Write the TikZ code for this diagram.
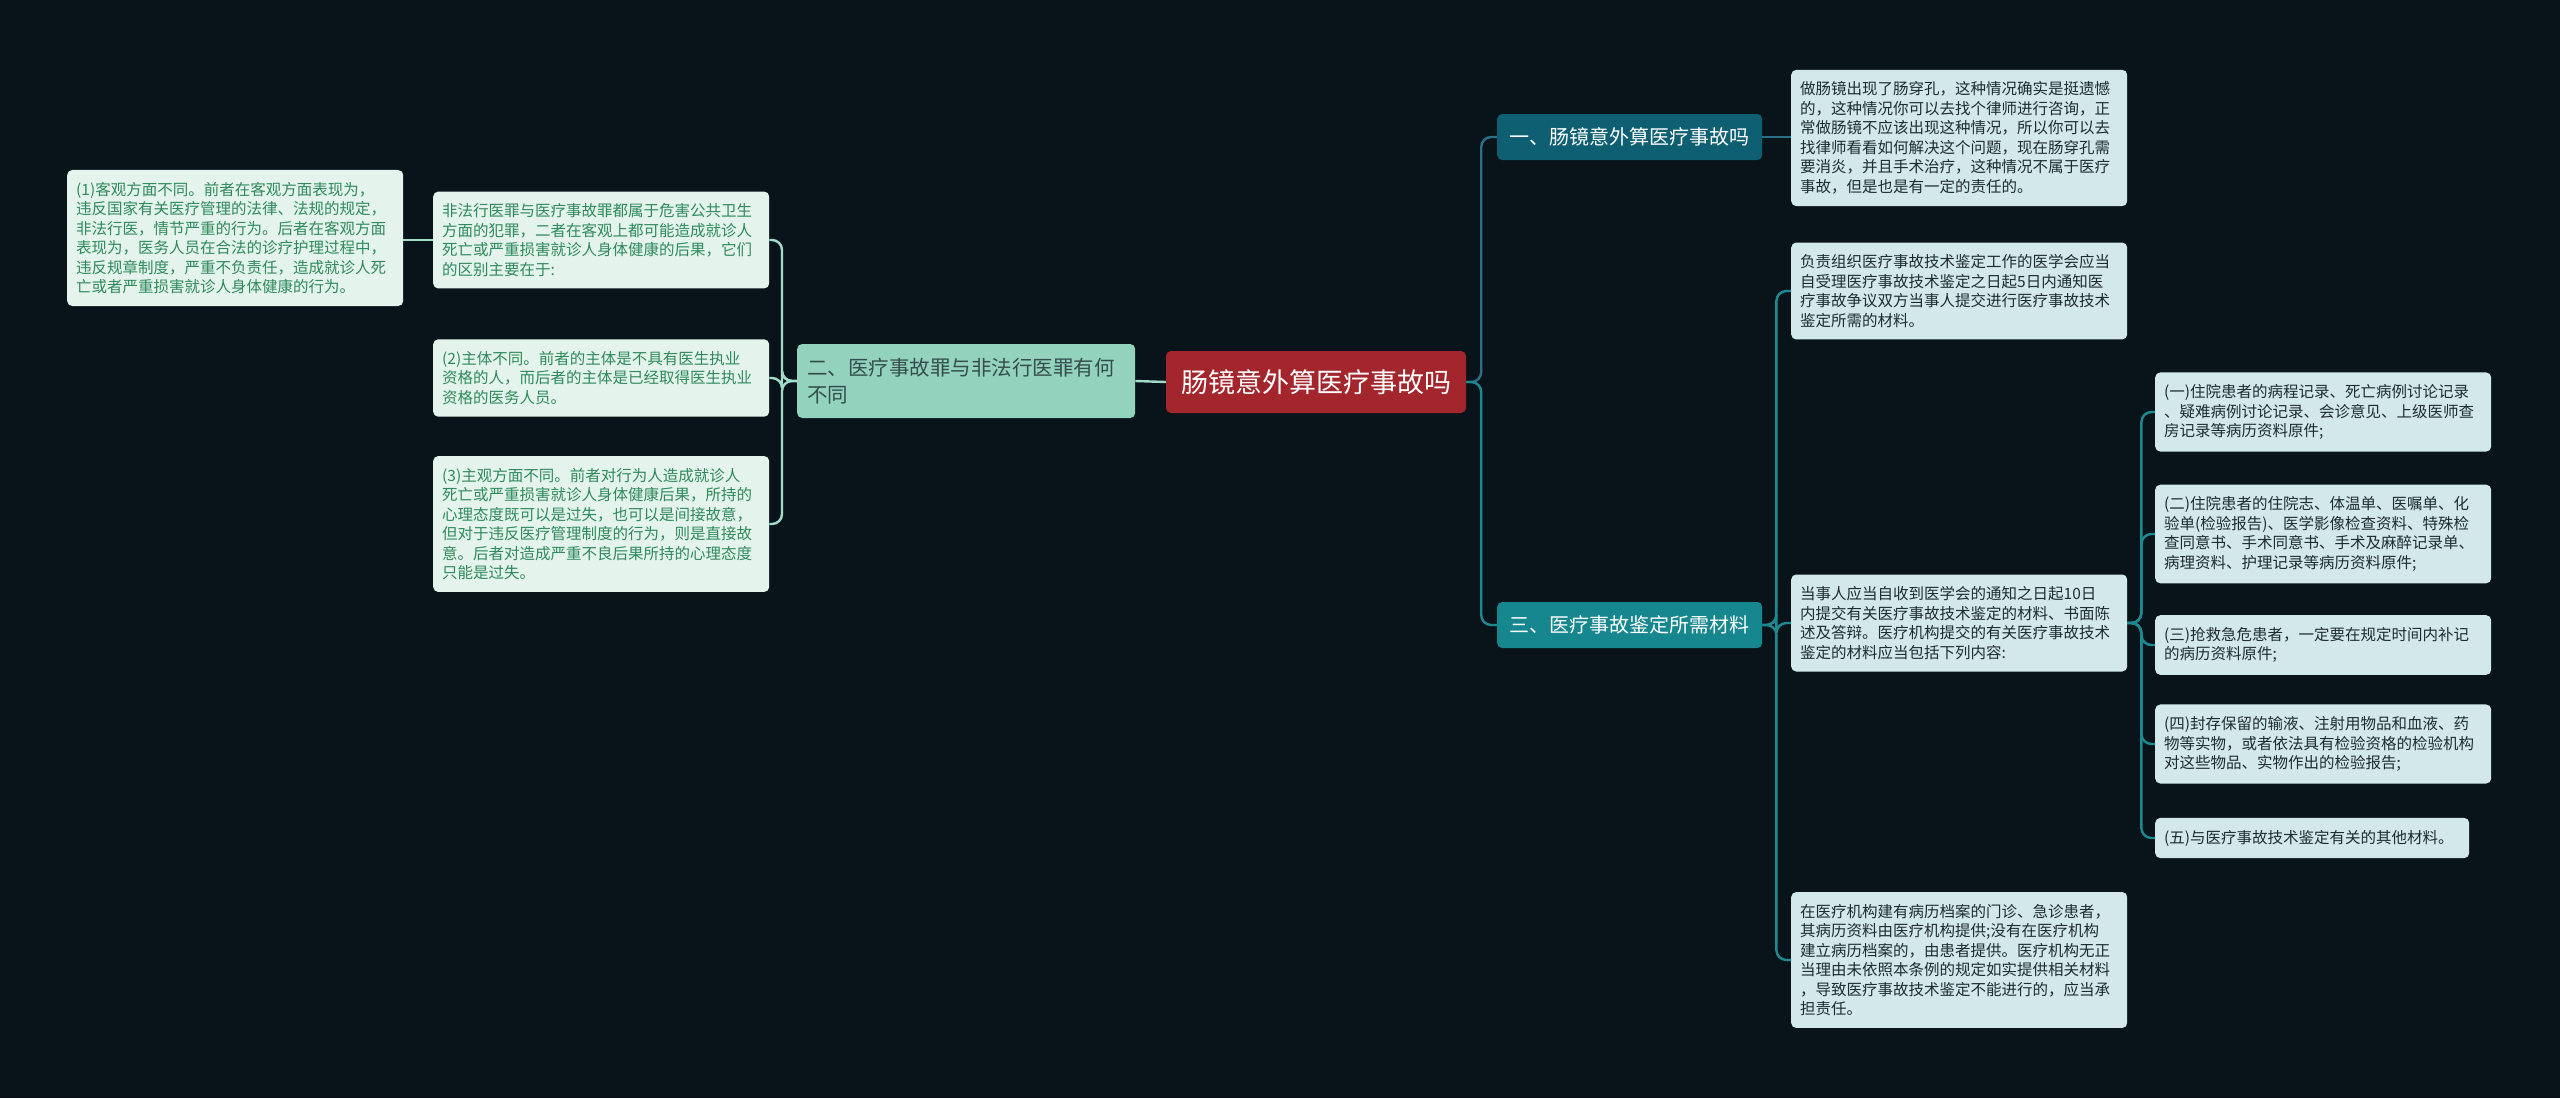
\documentclass[tikz,border=0pt]{standalone}
\usepackage{fontspec}
\setmainfont{Noto Sans CJK SC}
\definecolor{bgc}{HTML}{08141A}
\definecolor{rootc}{HTML}{A3262C}
\definecolor{b1c}{HTML}{0E5F72}
\definecolor{b3c}{HTML}{17878F}
\definecolor{b2c}{HTML}{93D2BD}
\definecolor{leafRc}{HTML}{D2E8EB}
\definecolor{leafRt}{HTML}{1E2C30}
\definecolor{leafLc}{HTML}{E4F3EC}
\definecolor{leafLt}{HTML}{2E8A5C}
\definecolor{lk1}{HTML}{2A7088}
\definecolor{lk3}{HTML}{1D8A91}
\definecolor{lkL}{HTML}{A3DCC8}
\begin{document}
\begin{tikzpicture}[x=1pt,y=-1pt,
  leafR/.style={fill=leafRc, text=leafRt, rounded corners=5pt, inner xsep=9pt, inner ysep=12pt,
     text width=318pt, align=left, font=\fontsize{15.5}{19.5}\selectfont, anchor=west},
  leafL/.style={leafR, fill=leafLc, text=leafLt},
  branch/.style={rounded corners=5pt, inner xsep=12pt, minimum height=46pt, text=white,
     font=\fontsize{20}{24}\selectfont, anchor=west},
  lnk/.style={line width=2.4pt, rounded corners=10pt}
]
\fill[bgc] (0,0) rectangle (2560,1098);
\useasboundingbox (0,0) rectangle (2560,1098);

% root
\node[fill=rootc, text=white, rounded corners=5pt, minimum width=300pt, minimum height=62pt,
  font=\fontsize{27}{30}\selectfont] (root) at (1316,382) {肠镜意外算医疗事故吗};

% branches
\node[branch, fill=b1c, minimum width=265pt] (b1) at (1497,137) {一、肠镜意外算医疗事故吗};
\node[branch, fill=b3c, minimum width=265pt] (b3) at (1497,625) {三、医疗事故鉴定所需材料};
\node[fill=b2c, text=leafRt!80!b2c, rounded corners=5pt, inner xsep=10pt, text width=318pt, align=left,
  minimum height=74pt, font=\fontsize{20.5}{27}\selectfont, anchor=west] (b2) at (797,381)
  {二、医疗事故罪与非法行医罪有何\\不同};

% right leaves
\node[leafR] (l1) at (1791,138) {做肠镜出现了肠穿孔，这种情况确实是挺遗憾\\的，这种情况你可以去找个律师进行咨询，正\\常做肠镜不应该出现这种情况，所以你可以去\\找律师看看如何解决这个问题，现在肠穿孔需\\要消炎，并且手术治疗，这种情况不属于医疗\\事故，但是也是有一定的责任的。};
\node[leafR] (la) at (1791,291) {负责组织医疗事故技术鉴定工作的医学会应当\\自受理医疗事故技术鉴定之日起5日内通知医\\疗事故争议双方当事人提交进行医疗事故技术\\鉴定所需的材料。};
\node[leafR] (lb) at (1791,623) {当事人应当自收到医学会的通知之日起10日\\内提交有关医疗事故技术鉴定的材料、书面陈\\述及答辩。医疗机构提交的有关医疗事故技术\\鉴定的材料应当包括下列内容:};
\node[leafR] (lc) at (1791,960) {在医疗机构建有病历档案的门诊、急诊患者，\\其病历资料由医疗机构提供;没有在医疗机构\\建立病历档案的，由患者提供。医疗机构无正\\当理由未依照本条例的规定如实提供相关材料\\，导致医疗事故技术鉴定不能进行的，应当承\\担责任。};

\node[leafR] (s1) at (2155,412) {(一)住院患者的病程记录、死亡病例讨论记录\\、疑难病例讨论记录、会诊意见、上级医师查\\房记录等病历资料原件;};
\node[leafR] (s2) at (2155,534) {(二)住院患者的住院志、体温单、医嘱单、化\\验单(检验报告)、医学影像检查资料、特殊检\\查同意书、手术同意书、手术及麻醉记录单、\\病理资料、护理记录等病历资料原件;};
\node[leafR] (s3) at (2155,645) {(三)抢救急危患者，一定要在规定时间内补记\\的病历资料原件;};
\node[leafR] (s4) at (2155,744) {(四)封存保留的输液、注射用物品和血液、药\\物等实物，或者依法具有检验资格的检验机构\\对这些物品、实物作出的检验报告;};
\node[leafR, text width=296pt] (s5) at (2155,838) {(五)与医疗事故技术鉴定有关的其他材料。};

% left leaves
\node[leafL] (li) at (433,240) {非法行医罪与医疗事故罪都属于危害公共卫生\\方面的犯罪，二者在客观上都可能造成就诊人\\死亡或严重损害就诊人身体健康的后果，它们\\的区别主要在于:};
\node[leafL] (lp1) at (67,238) {(1)客观方面不同。前者在客观方面表现为，\\违反国家有关医疗管理的法律、法规的规定，\\非法行医，情节严重的行为。后者在客观方面\\表现为，医务人员在合法的诊疗护理过程中，\\违反规章制度，严重不负责任，造成就诊人死\\亡或者严重损害就诊人身体健康的行为。};
\node[leafL] (lp2) at (433,378) {(2)主体不同。前者的主体是不具有医生执业\\资格的人，而后者的主体是已经取得医生执业\\资格的医务人员。};
\node[leafL] (lp3) at (433,524) {(3)主观方面不同。前者对行为人造成就诊人\\死亡或严重损害就诊人身体健康后果，所持的\\心理态度既可以是过失，也可以是间接故意，\\但对于违反医疗管理制度的行为，则是直接故\\意。后者对造成严重不良后果所持的心理态度\\只能是过失。};

% connectors
\draw[lnk, lk1] (root.east) -- ++(15,0) |- (b1.west);
\draw[lnk, lk3] (root.east) -- ++(15,0) |- (b3.west);
\draw[lnk, lk1] (b1.east) -- (l1.west |- b1.east);
\draw[lnk, lk3] (b3.east) -- ++(14,0) |- (la.west);
\draw[lnk, lk3] (b3.east) -- ++(14,0) |- (lb.west);
\draw[lnk, lk3] (b3.east) -- ++(14,0) |- (lc.west);
\foreach \s in {s1,s2,s3,s4,s5}
  \draw[lnk, lk3] (lb.east) -- ++(14,0) |- (\s.west);
\draw[lnk, lkL] (root.west) -- (b2.east);
\foreach \s in {li,lp2,lp3}
  \draw[lnk, lkL] (b2.west) -- ++(-15,0) |- (\s.east);
\draw[lnk, lkL] (li.west) -- (lp1.east |- li.west);
\end{tikzpicture}
\end{document}
